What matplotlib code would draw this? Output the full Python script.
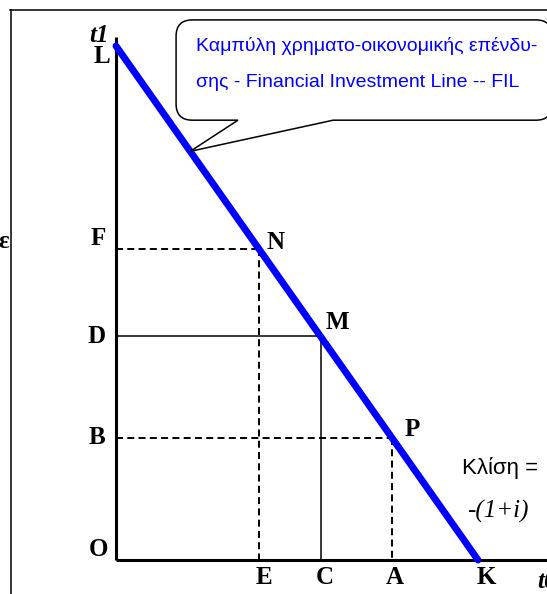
import matplotlib.pyplot as plt
from matplotlib.path import Path
from matplotlib.patches import PathPatch
from matplotlib.lines import Line2D

# Financial investment line: intercepts on each axis and three points on it
L_val = 14.2      # intercept on t1 axis
K_val = 10.0      # intercept on t0 axis
E_val, C_val, A_val = 3.95, 5.65, 7.62
x_labels = ['E', 'C', 'A', 'K']
y_labels = ['F', 'D', 'B']
point_labels = ['N', 'M', 'P']


def fil(x):
    return L_val * (1 - x / K_val)


xs = [E_val, C_val, A_val]
ys = [fil(x) for x in xs]

fig = plt.figure(figsize=(5.47, 5.94), dpi=100)
ax = fig.add_axes([0, 0, 1, 1])
ax.set_xlim(-3.204, 11.906)
ax.set_ylim(-0.939, 15.47)
ax.axis('off')

serif = 'Liberation Serif'
sans = 'Liberation Sans'

# axes of the diagram
ax.plot([0, 0], [0, 14.45], color='black', lw=2.2, solid_capstyle='butt')
ax.plot([0, 12.5], [0, 0], color='black', lw=2.2, solid_capstyle='butt')

# projections from N, M, P onto the axes
dashed = [True, False, True]
for x, y, d in zip(xs, ys, dashed):
    kw = dict(color='black', lw=1.4, dashes=(3.6, 2.2)) if d else dict(color='black', lw=1.1)
    ax.plot([0, x], [y, y], **kw)
    ax.plot([x, x], [y, 0], **kw)

# the FIL itself
ax.plot([0, K_val], [L_val, 0], color='#0000ff', lw=5, solid_capstyle='round', zorder=5)

bold = dict(fontfamily=serif, fontweight='bold', fontsize=18)
ax.text(-0.47, 14.5, 't1', ha='center', va='center', style='italic', **bold)
ax.text(-0.15, 13.9, 'L', ha='right', va='center', **bold)
ax.text(-0.22, 0.28, 'O', ha='right', va='center', **bold)
offsets_y = [0.3, 0.0, 0.0]
for lab, y, dy in zip(y_labels, ys, offsets_y):
    ax.text(-0.28, y + dy, lab, ha='right', va='center', **bold)
for lab, x, dx in zip(x_labels, xs + [K_val], [0.15, 0.12, 0.08, 0.22]):
    ax.text(x + dx, -0.47, lab, ha='center', va='center', **bold)
for lab, x, y, dx, dy in zip(point_labels, xs, ys, [0.47, 0.47, 0.55], [0.17, 0.39, 0.22]):
    ax.text(x + dx, y + dy, lab, ha='center', va='center', **bold)
ax.text(11.63, -0.58, 't0', ha='left', va='center', style='italic', **bold)
ax.text(-2.96, 8.81, 'ε', ha='right', va='center', **bold)

# slope note
ax.text(9.56, 2.54, 'Κλίση =', ha='left', va='center', fontfamily=sans, fontsize=16)
ax.text(10.55, 1.35, '-(1+i)', ha='center', va='center', fontfamily=serif,
        style='italic', fontsize=18)

# speech-bubble callout pointing at the line
tip_x = 2.05
tip = (tip_x, fil(tip_x))
x0, x1, y0, y1 = 1.66, 12.05, 12.15, 14.92
r = 0.45
verts = [
    (3.37, y0), tip, (6.0, y0),
    (x1 - r, y0), (x1, y0), (x1, y0 + r),
    (x1, y1 - r), (x1, y1), (x1 - r, y1),
    (x0 + r, y1), (x0, y1), (x0, y1 - r),
    (x0, y0 + r), (x0, y0), (x0 + r, y0),
    (3.37, y0),
]
codes = [Path.MOVETO, Path.LINETO, Path.LINETO,
         Path.LINETO, Path.CURVE3, Path.CURVE3,
         Path.LINETO, Path.CURVE3, Path.CURVE3,
         Path.LINETO, Path.CURVE3, Path.CURVE3,
         Path.LINETO, Path.CURVE3, Path.CURVE3,
         Path.CLOSEPOLY]
ax.add_patch(PathPatch(Path(verts, codes), facecolor='white', edgecolor='black',
                       lw=1.1, zorder=6))
ax.text(2.2, 14.2, 'Καμπύλη χρηματο-οικονομικής επένδυ-', ha='left', va='center',
        color='#0000ff', fontfamily=sans, fontsize=14, zorder=7)
ax.text(2.2, 13.18, 'σης - Financial Investment Line -- FIL', ha='left', va='center',
        color='#0000ff', fontfamily=sans, fontsize=14, zorder=7)

# outer frame
fig.add_artist(Line2D([0.0183, 1.0], [0.983, 0.983], color='black', lw=1.1))
fig.add_artist(Line2D([0.0201, 0.0201], [0.0, 0.983], color='black', lw=1.1))

fig.savefig('out.png', dpi=100)
